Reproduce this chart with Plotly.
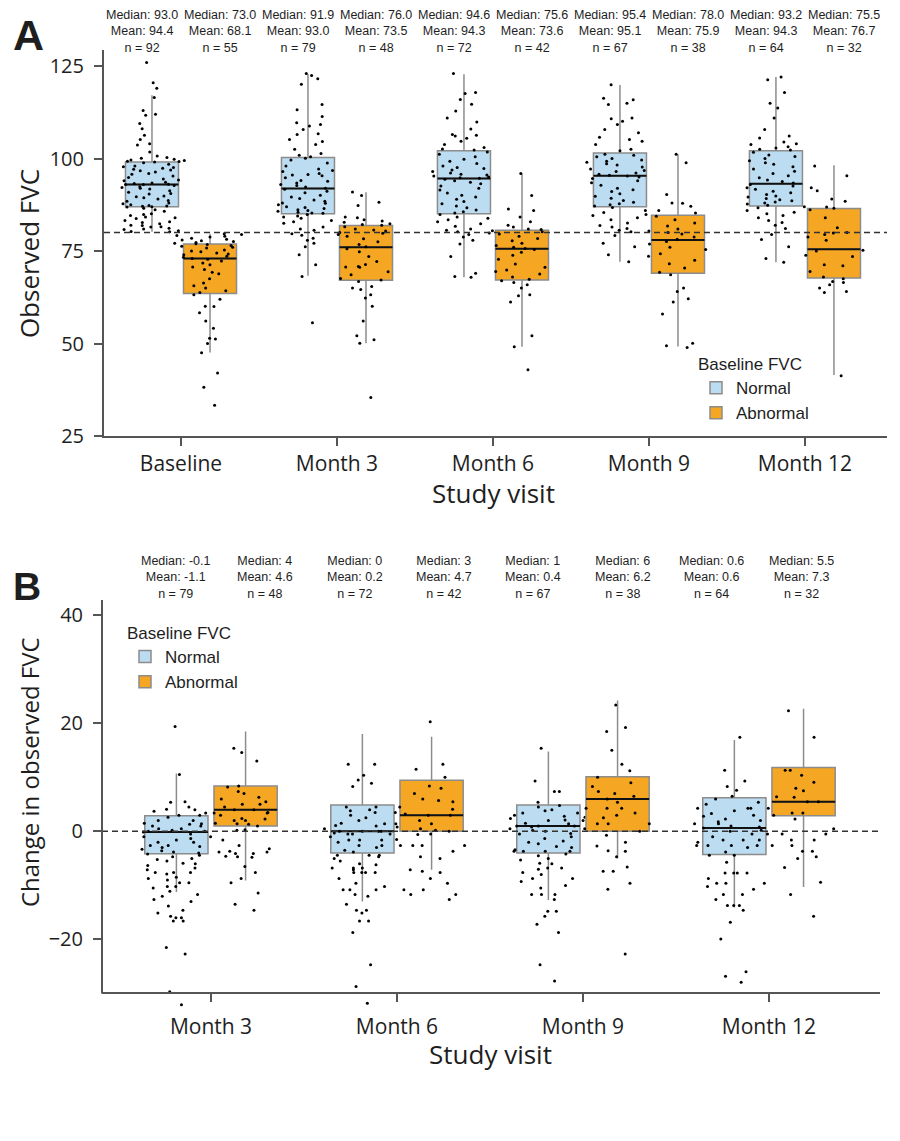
import plotly.graph_objects as go

# page body keeps its default 8px margin, so the figure is made smaller and coordinates shifted
PAGE_MARGIN = 8
W, H = 900 - 2 * PAGE_MARGIN, 1141 - 2 * PAGE_MARGIN

# --- Panel A: observed FVC by visit ---
VISITS_A = ["Baseline", "Month 3", "Month 6", "Month 9", "Month 12"]
A_NORM_MEDIAN = [93.0, 91.9, 94.6, 95.4, 93.2]
A_NORM_MEAN = [94.4, 93.0, 94.3, 95.1, 94.3]
A_NORM_N = [92, 79, 72, 67, 64]
A_ABN_MEDIAN = [73.0, 76.0, 75.6, 78.0, 75.5]
A_ABN_MEAN = [68.1, 73.5, 73.6, 75.9, 76.7]
A_ABN_N = [55, 48, 42, 38, 32]
A_NORM_Q1 = [87.0, 85.1, 85.1, 87.0, 87.2]
A_NORM_Q3 = [99.1, 100.3, 102.1, 101.5, 102.1]
A_NORM_LO = [80.2, 68.3, 67.9, 72.1, 72.0]
A_NORM_HI = [117.1, 122.9, 122.8, 119.9, 122.1]
A_ABN_Q1 = [63.5, 67.1, 67.2, 69.0, 67.7]
A_ABN_Q3 = [76.9, 81.9, 80.6, 84.7, 86.5]
A_ABN_LO = [47.6, 50.1, 49.1, 49.2, 41.5]
A_ABN_HI = [79.7, 90.9, 96.0, 101.2, 98.2]

A_NORM_BASELINE = [126.0, 120.5, 119.0, 116.5, 113.0, 112.0, 111.7, 109.5, 108.1, 106.3, 105.2, 104.0, 103.7, 101.8,
                   100.7, 100.3, 100.1, 99.8, 99.6, 99.5, 99.3, 99.2, 99.1, 98.9, 98.5, 98.0, 97.8, 97.6, 97.4, 97.1,
                   96.9, 96.7, 96.4, 96.0, 95.8, 95.3, 94.9, 94.5, 94.2, 94.0, 93.6, 93.4, 93.3, 93.1, 93.0, 93.0,
                   92.7, 92.4, 92.2, 92.0, 91.8, 91.3, 90.9, 90.6, 90.4, 89.9, 89.7, 89.4, 89.1, 88.7, 88.5, 88.0,
                   87.8, 87.5, 87.3, 87.2, 87.1, 87.0, 86.9, 86.6, 86.2, 85.8, 85.1, 84.9, 84.6, 84.2, 84.0, 83.8,
                   83.3, 82.9, 82.7, 82.4, 82.0, 81.9, 81.6, 81.5, 81.2, 81.0, 80.8, 80.5, 80.3, 80.2]
A_NORM_M3 = [123.0, 122.5, 121.6, 120.1, 114.6, 113.2, 111.4, 109.7, 109.2, 108.8, 107.9, 106.7, 106.5, 105.2, 104.6,
             103.8, 102.5, 101.4, 100.9, 100.5, 100.1, 99.6, 98.8, 98.0, 97.2, 96.8, 96.5, 96.0, 95.7, 95.6, 95.4,
             94.8, 94.1, 93.9, 93.4, 93.0, 92.7, 92.3, 92.0, 91.7, 91.2, 90.8, 90.1, 89.6, 89.2, 88.8, 88.5, 88.0,
             87.9, 87.5, 87.0, 86.8, 86.5, 86.2, 86.0, 85.8, 85.5, 85.3, 85.2, 84.9, 84.5, 84.2, 83.9, 83.3, 82.9,
             82.5, 81.5, 81.0, 80.6, 79.7, 79.3, 78.5, 77.9, 77.1, 76.2, 74.0, 71.3, 68.1, 55.6]
A_NORM_M6 = [123.0, 117.9, 117.6, 116.0, 114.7, 112.9, 111.0, 109.9, 108.0, 106.5, 106.3, 106.1, 105.5, 104.7, 103.8,
             103.0, 102.6, 102.3, 101.8, 101.2, 100.5, 99.8, 99.3, 98.7, 98.0, 97.6, 97.3, 96.9, 96.5, 96.1, 95.8,
             95.6, 95.3, 95.0, 94.8, 94.7, 94.4, 94.0, 93.6, 93.2, 92.6, 92.0, 91.5, 90.7, 90.1, 89.6, 89.0, 88.4,
             87.8, 87.2, 86.7, 86.1, 85.6, 85.3, 84.9, 84.2, 83.9, 83.5, 82.9, 82.4, 81.7, 81.0, 80.6, 80.2, 79.5,
             78.8, 77.9, 76.9, 73.5, 69.0, 68.1, 67.9]
A_NORM_M9 = [120.0, 116.3, 115.9, 115.0, 114.6, 111.0, 110.8, 110.1, 109.2, 107.9, 107.0, 105.8, 105.2, 104.7, 103.8,
             102.5, 102.1, 101.2, 100.9, 100.5, 100.0, 99.6, 99.3, 99.0, 98.6, 98.3, 97.7, 97.2, 96.8, 96.5, 96.1,
             95.8, 95.5, 95.3, 95.0, 94.6, 94.0, 93.5, 92.8, 92.0, 91.6, 91.1, 90.5, 89.8, 89.3, 88.7, 88.2, 87.8,
             87.5, 87.2, 86.8, 86.0, 85.4, 84.6, 84.0, 83.5, 82.6, 81.9, 81.5, 81.1, 80.6, 80.2, 79.2, 77.1, 76.2,
             74.0, 72.1]
A_NORM_M12 = [122.1, 121.3, 117.9, 115.0, 113.7, 111.0, 107.9, 106.1, 105.6, 104.5, 104.0, 103.8, 103.2, 102.9, 102.5,
              102.3, 101.7, 101.0, 100.6, 100.0, 99.4, 98.9, 98.5, 97.8, 97.2, 96.6, 96.0, 95.4, 94.8, 94.2, 93.8,
              93.4, 93.0, 92.6, 92.1, 91.7, 91.2, 90.8, 90.3, 89.9, 89.6, 89.2, 88.9, 88.6, 88.3, 88.0, 87.7, 87.4,
              87.0, 86.7, 86.0, 85.5, 85.1, 84.6, 84.0, 83.3, 82.7, 82.0, 81.1, 79.5, 78.1, 76.2, 73.0, 72.0]
A_ABN_BASELINE = [79.7, 79.5, 79.2, 79.0, 78.8, 78.5, 78.2, 78.0, 77.8, 77.6, 77.3, 77.1, 77.0, 76.8, 76.5, 76.3, 76.0,
                  75.8, 75.3, 75.0, 74.8, 74.5, 74.2, 74.0, 73.6, 73.3, 73.0, 72.8, 72.3, 71.8, 71.3, 70.7, 70.0,
                  69.3, 68.9, 67.5, 66.4, 65.6, 65.0, 64.3, 63.8, 63.2, 62.0, 60.1, 60.0, 58.3, 56.1, 54.1, 51.4,
                  51.2, 50.0, 47.5, 42.0, 38.2, 33.3]
A_ABN_M3 = [91.0, 90.0, 88.2, 87.3, 84.2, 84.0, 83.5, 83.1, 82.8, 82.4, 82.2, 82.0, 81.6, 81.0, 80.7, 80.4, 80.0, 79.8,
            79.5, 79.0, 78.3, 77.5, 76.8, 76.2, 75.6, 74.8, 73.5, 72.2, 71.4, 70.8, 70.7, 70.6, 69.4, 68.6, 67.6,
            67.2, 66.8, 65.4, 65.0, 64.6, 63.2, 62.3, 60.1, 56.1, 52.1, 51.0, 50.1, 35.4]
A_ABN_M6 = [96.0, 90.0, 86.4, 86.0, 84.2, 82.9, 82.0, 81.5, 81.0, 80.8, 80.5, 80.2, 79.9, 79.6, 79.0, 78.4, 77.8, 77.1,
            76.5, 76.0, 75.7, 75.4, 74.7, 73.9, 72.8, 71.5, 70.6, 69.9, 69.5, 68.8, 68.0, 67.4, 67.0, 66.5, 65.9,
            65.0, 63.2, 62.9, 61.2, 52.1, 49.1, 42.9]
A_ABN_M9 = [101.2, 98.9, 90.3, 88.0, 87.9, 87.1, 86.0, 85.3, 84.9, 84.4, 83.5, 82.6, 81.8, 81.0, 80.4, 80.0, 79.6, 78.8,
            78.2, 77.6, 76.9, 76.0, 75.4, 74.3, 73.6, 72.5, 71.6, 70.4, 69.3, 68.6, 65.0, 64.1, 62.1, 61.2, 58.0,
            50.1, 49.4, 48.9]
A_ABN_M12 = [98.0, 95.4, 92.1, 91.3, 89.1, 88.5, 86.9, 86.6, 86.2, 84.0, 81.3, 80.0, 79.9, 79.5, 78.8, 77.9, 75.2, 75.0,
             73.9, 73.5, 71.3, 71.0, 69.5, 68.0, 67.5, 66.8, 66.5, 65.9, 65.0, 64.1, 63.8, 41.3]

# --- Panel B: change in observed FVC from baseline ---
VISITS_B = ["Month 3", "Month 6", "Month 9", "Month 12"]
B_NORM_MEDIAN = [-0.1, 0, 1, 0.6]
B_NORM_MEAN = [-1.1, 0.2, 0.4, 0.6]
B_NORM_N = [79, 72, 67, 64]
B_ABN_MEDIAN = [4, 3, 6, 5.5]
B_ABN_MEAN = [4.6, 4.7, 6.2, 7.3]
B_ABN_N = [48, 42, 38, 32]
B_NORM_Q1 = [-4.15, -4.0, -4.0, -4.3]
B_NORM_Q3 = [2.9, 4.9, 4.9, 6.2]
B_NORM_LO = [-11.2, -13.0, -12.7, -14.1]
B_NORM_HI = [10.7, 18.0, 14.8, 16.9]
B_ABN_Q1 = [1.0, 0.0, 0.0, 2.9]
B_ABN_Q3 = [8.4, 9.45, 10.1, 11.8]
B_ABN_LO = [-9.1, -7.1, -5.0, -10.3]
B_ABN_HI = [18.5, 17.5, 24.2, 22.7]

B_NORM_M3 = [19.4, 10.5, 5.5, 5.4, 4.5, 4.1, 4.0, 3.7, 3.0, 3.0, 2.6, 2.0, 1.5, 1.4, 1.3, 1.0, 0.5, 0.2, 0.0, 0.0,
             -0.1, -0.5, -1.0, -1.3, -1.6, -2.0, -2.6, -2.6, -2.8, -3.0, -3.3, -3.6, -3.8, -4.0, -4.2, -4.4, -4.7,
             -5.0, -5.2, -5.5, -5.9, -6.0, -6.3, -6.8, -7.1, -7.6, -7.6, -7.6, -7.9, -8.5, -8.7, -9.0, -9.5, -9.5,
             -10.2, -10.2, -10.5, -11.1, -11.7, -12.0, -12.6, -13.0, -13.8, -14.6, -15.1, -15.7, -16.0, -16.0,
             -16.6, -16.6, -21.5, -22.7, -29.7, -32.1, 1.0, -1.0, 0.5, -2.0, 2.0]
B_NORM_M6 = [12.4, 12.4, 10.4, 9.5, 8.9, 8.3, 4.5, 4.5, 3.8, 3.5, 2.0, 1.4, 1.1, 0.8, 0.0, 0.0, 0.0, 0.0,
             -0.5, -0.5, -0.5, -1.6, -1.6, -1.6, -2.6, -2.6, -3.0, -3.8, -4.4, -4.4, -4.4, -4.7, -6.2, -6.8, -6.8,
             -6.8, -7.1, -7.6, -7.6, -7.6, -7.6, -8.7, -9.6, -10.2, -10.8, -10.8, -10.8, -11.7, -12.0, -13.5,
             -14.6, -14.6, -15.1, -16.6, -16.6, -18.7, -24.7, -28.7, -31.8, 1.0, 2.5, 3.0, 4.0, 0.5, -1.0, -2.0,
             -3.5, -5.0, -5.5, -6.0, 1.5, -0.3]
B_NORM_M9 = [15.4, 9.3, 7.4, 7.4, 5.4, 4.5, 3.4, 3.4, 2.6, 2.4, 2.1, 1.4, 1.0, 1.0, 1.0, 0.5, 0.2,
             -0.4, -1.3, -2.3, -3.4, -3.7, -3.7, -3.7, -3.7, -4.2, -5.3, -5.9, -6.8, -6.8, -7.6, -8.0, -8.7, -8.7,
             -9.3, -10.5, -11.7, -11.7, -11.7, -12.6, -14.8, -14.8, -15.7, -17.2, -18.7, -24.7, -27.7,
             3.0, 2.0, 0.0, -1.0, -2.0, 1.5, 4.0, -0.5, -3.0, -4.5, -6.0, 0.8, 2.8, -1.8, -2.8, 3.8, 4.8, -5.0,
             -7.0, -10.0]
B_NORM_M12 = [17.4, 11.3, 9.3, 8.3, 7.6, 6.5, 5.4, 4.3, 4.3, 4.3, 4.3, 3.8, 2.3, 1.4, 1.4, 1.0, 0.6, 0.2,
              -1.6, -1.6, -1.6, -2.6, -2.6, -2.6, -2.6, -3.8, -4.4, -4.4, -5.7, -7.7, -7.7, -7.7, -7.7, -8.7,
              -9.6, -9.6, -9.6, -10.2, -10.7, -11.7, -11.7, -12.6, -13.7, -13.7, -13.7, -14.6, -16.8, -19.9,
              -26.0, -26.8, -27.9, 3.0, 2.0, 5.0, 6.0, 0.0, -0.5, -1.0, 1.8, 2.8, 3.3, -3.0, 0.8, -2.0]
B_ABN_M3 = [15.4, 14.6, 13.0, 8.4, 8.2, 7.4, 6.3, 5.5, 5.0, 4.5, 4.0, 4.0, 3.5, 3.4, 3.4, 3.4, 2.4, 2.3, 2.0, 1.4,
            1.3, 1.0, 0.3, 0.2, -1.6, -2.6, -3.2, -3.7, -3.8, -3.8, -4.1, -4.1, -4.6, -4.7, -4.8, -6.5, -7.6,
            -8.7, -9.5, -11.4, -13.5, -14.6, 6.0, 7.0, 5.0, 3.0, 2.0, 1.5]
B_ABN_M6 = [20.3, 12.4, 11.5, 10.0, 8.4, 8.0, 7.0, 5.7, 5.5, 4.5, 4.1, 3.5, 3.2, 3.0, 3.0, 2.0, 1.4, 1.4, 0.5, 0.2,
            0.0, -0.5, -0.6, -1.5, -2.6, -2.6, -2.6, -2.6, -3.7, -4.7, -5.0, -7.1, -7.4, -7.6, -8.7, -9.6, -10.8,
            -10.8, -11.7, -11.7, -12.6, 6.0]
B_ABN_M9 = [23.4, 19.2, 18.5, 12.4, 11.2, 10.0, 9.0, 8.3, 7.4, 6.5, 6.0, 5.4, 4.3, 4.3, 4.3, 3.4, 2.5, 1.4, 1.4, 1.4,
            0.5, 0.0, -0.7, -2.0, -2.7, -3.6, -3.7, -4.7, -6.6, -7.4, -7.4, -9.6, -10.7, -22.7, 15.0, 7.0, 3.0, 2.0]
B_ABN_M12 = [22.3, 17.4, 11.3, 11.3, 10.4, 9.1, 8.0, 7.5, 6.4, 6.3, 5.5, 5.5, 3.4, 3.4, 3.0, 2.3,
             0.5, -0.5, -0.5, -0.5, -1.6, -1.6, -2.6, -2.6, -3.7, -3.7, -4.7, -5.0, -6.7, -9.4, -11.7, -15.7]

FVC_THRESHOLD = 80
NO_CHANGE = 0

# --- Style ---
BLUE = "#BBDCF1"
ORANGE = "#F5A623"
BOX_LINE = "#8c8c8c"
AXIS = "#555555"
TXT = "#1e1e1e"
SANS = "Open Sans"
ARIAL = "Liberation Sans"
OFFSET = 0.186      # box centre offset from the visit tick (x units)
BOX_W = 0.34
PTS_W = 0.46
HEAD_A = 0.25       # header text offset in panel A (x units)
HEAD_B0, HEAD_B_STEP = -0.187, 0.48   # header row in panel B is evenly spaced


# screen pixel -> paper coords
def px(x): return (x - PAGE_MARGIN) / W
def py(y): return 1 - (y - PAGE_MARGIN) / H


fig = go.Figure()


def add_series(xa, ya, legend, name, color, pos, q1, med, q3, lo, hi, pts):
    fig.add_trace(go.Box(x=pos, q1=q1, median=med, q3=q3, lowerfence=lo, upperfence=hi, orientation="v",
                         width=BOX_W, whiskerwidth=0, boxpoints=False, fillcolor=color,
                         line=dict(color=BOX_LINE, width=1.5), name=name, legend=legend,
                         xaxis=xa, yaxis=ya, hoverinfo="skip"))
    # darker median bar on top of the box
    fig.add_trace(go.Box(x=pos, q1=med, median=med, q3=med, lowerfence=med, upperfence=med, orientation="v",
                         width=BOX_W, whiskerwidth=0, boxpoints=False, fillcolor="rgba(0,0,0,0)",
                         line=dict(color="#111111", width=2), showlegend=False,
                         xaxis=xa, yaxis=ya, hoverinfo="skip"))
    for p, vals in zip(pos, pts):
        fig.add_trace(go.Box(x0=p, y=vals, orientation="v", boxpoints="all", jitter=1, pointpos=0, width=PTS_W,
                             fillcolor="rgba(0,0,0,0)", line=dict(color="rgba(0,0,0,0)", width=0),
                             marker=dict(color="black", size=3), showlegend=False,
                             xaxis=xa, yaxis=ya, hoverinfo="skip"))


pos_a_n = [i - OFFSET for i in range(len(VISITS_A))]
pos_a_a = [i + OFFSET for i in range(len(VISITS_A))]
pos_b_n = [i - OFFSET for i in range(len(VISITS_B))]
pos_b_a = [i + OFFSET for i in range(len(VISITS_B))]

add_series("x", "y", "legend", "Normal", BLUE, pos_a_n, A_NORM_Q1, A_NORM_MEDIAN, A_NORM_Q3, A_NORM_LO, A_NORM_HI,
           [A_NORM_BASELINE, A_NORM_M3, A_NORM_M6, A_NORM_M9, A_NORM_M12])
add_series("x", "y", "legend", "Abnormal", ORANGE, pos_a_a, A_ABN_Q1, A_ABN_MEDIAN, A_ABN_Q3, A_ABN_LO, A_ABN_HI,
           [A_ABN_BASELINE, A_ABN_M3, A_ABN_M6, A_ABN_M9, A_ABN_M12])
add_series("x2", "y2", "legend2", "Normal", BLUE, pos_b_n, B_NORM_Q1, B_NORM_MEDIAN, B_NORM_Q3, B_NORM_LO, B_NORM_HI,
           [B_NORM_M3, B_NORM_M6, B_NORM_M9, B_NORM_M12])
add_series("x2", "y2", "legend2", "Abnormal", ORANGE, pos_b_a, B_ABN_Q1, B_ABN_MEDIAN, B_ABN_Q3, B_ABN_LO, B_ABN_HI,
           [B_ABN_M3, B_ABN_M6, B_ABN_M9, B_ABN_M12])

# --- header stats above each box ---
hfont = dict(family=ARIAL, size=12.5, color=TXT)
ann = []
for i in range(len(VISITS_A)):
    for off, m, mu, k in [(-HEAD_A, A_NORM_MEDIAN[i], A_NORM_MEAN[i], A_NORM_N[i]),
                          (HEAD_A, A_ABN_MEDIAN[i], A_ABN_MEAN[i], A_ABN_N[i])]:
        ann.append(dict(x=i + off, xref="x", y=py(32), yref="paper", xanchor="center", yanchor="middle",
                        showarrow=False, text=f"Median: {m:.1f}<br>Mean: {mu:.1f}<br>n = {k}", font=hfont))
j = 0
for i in range(len(VISITS_B)):
    for m, mu, k in [(B_NORM_MEDIAN[i], B_NORM_MEAN[i], B_NORM_N[i]), (B_ABN_MEDIAN[i], B_ABN_MEAN[i], B_ABN_N[i])]:
        ann.append(dict(x=HEAD_B0 + HEAD_B_STEP * j, xref="x2", y=py(584), yref="paper", xanchor="center",
                        yanchor="middle", showarrow=False, text=f"Median: {m:g}<br>Mean: {mu:g}<br>n = {k}",
                        font=hfont))
        j += 1


def label(x, y, text, size, family=SANS, angle=0):
    return dict(x=px(x), y=py(y), xref="paper", yref="paper", xanchor="center", yanchor="middle",
                text=text, textangle=angle, showarrow=False, font=dict(family=family, size=size, color=TXT))


ann += [
    label(28, 35, "<b>A</b>", 43, ARIAL),
    label(27, 593, "<b>B</b>", 39, ARIAL),
    label(29, 257, "Observed FVC", 26, angle=-90),
    label(29, 781, "Change in observed FVC", 24, angle=-90),
    label(493, 499, "Study visit", 26),
    label(491, 1066, "Study visit", 26),
]

dash = dict(color="#333333", width=1.5, dash="6px,4px")
shapes = [
    dict(type="line", xref="x domain", x0=0, x1=1, yref="y", y0=FVC_THRESHOLD, y1=FVC_THRESHOLD, line=dash),
    dict(type="line", xref="x2 domain", x0=0, x1=1, yref="y2", y0=NO_CHANGE, y1=NO_CHANGE, line=dash),
    dict(type="line", xref="x2 domain", x0=0, x1=0, yref="y2", y0=-30, y1=42.8, line=dict(color=AXIS, width=2)),
]

axis_common = dict(showgrid=False, zeroline=False, ticks="outside", ticklen=8, tickwidth=2, tickcolor=AXIS,
                   linecolor=AXIS, linewidth=2, type="linear")
legend_common = dict(font=dict(family=ARIAL, size=17, color=TXT), bgcolor="rgba(0,0,0,0)",
                     title=dict(text="Baseline FVC", font=dict(family=ARIAL, size=17, color=TXT)),
                     xanchor="left", yanchor="top", tracegroupgap=0, itemclick=False)

fig.update_layout(
    width=W, height=H, margin=dict(l=0, r=0, t=0, b=0),
    paper_bgcolor="white", plot_bgcolor="white", boxmode="overlay",
    xaxis=dict(axis_common, domain=[px(104), px(887)], range=[-0.4936, 4.526], anchor="y", showline=True,
               tickvals=list(range(len(VISITS_A))), ticktext=VISITS_A,
               tickfont=dict(family=SANS, size=21, color=TXT)),
    yaxis=dict(axis_common, domain=[py(441), py(50)], range=[25, 129.5], anchor="x", showline=True,
               tickvals=[25, 50, 75, 100, 125], ticklabelstandoff=6,
               tickfont=dict(family=SANS, size=20, color=TXT)),
    xaxis2=dict(axis_common, domain=[px(102), px(880)], range=[-0.586, 3.597], anchor="free", position=py(1005),
                showline=True, tickvals=list(range(len(VISITS_B))), ticktext=VISITS_B, ticklabelstandoff=6,
                tickfont=dict(family=SANS, size=21, color=TXT)),
    yaxis2=dict(axis_common, domain=[py(1021.4), py(607)], range=[-33, 42.8], anchor="x2", showline=False,
                tickvals=[-20, 0, 20, 40], ticklabelstandoff=6,
                tickfont=dict(family=SANS, size=20, color=TXT)),
    legend=dict(legend_common, x=px(696), y=py(352)),
    legend2=dict(legend_common, x=px(125), y=py(624)),
    annotations=ann, shapes=shapes, showlegend=True,
)

fig.write_html("out.html")
